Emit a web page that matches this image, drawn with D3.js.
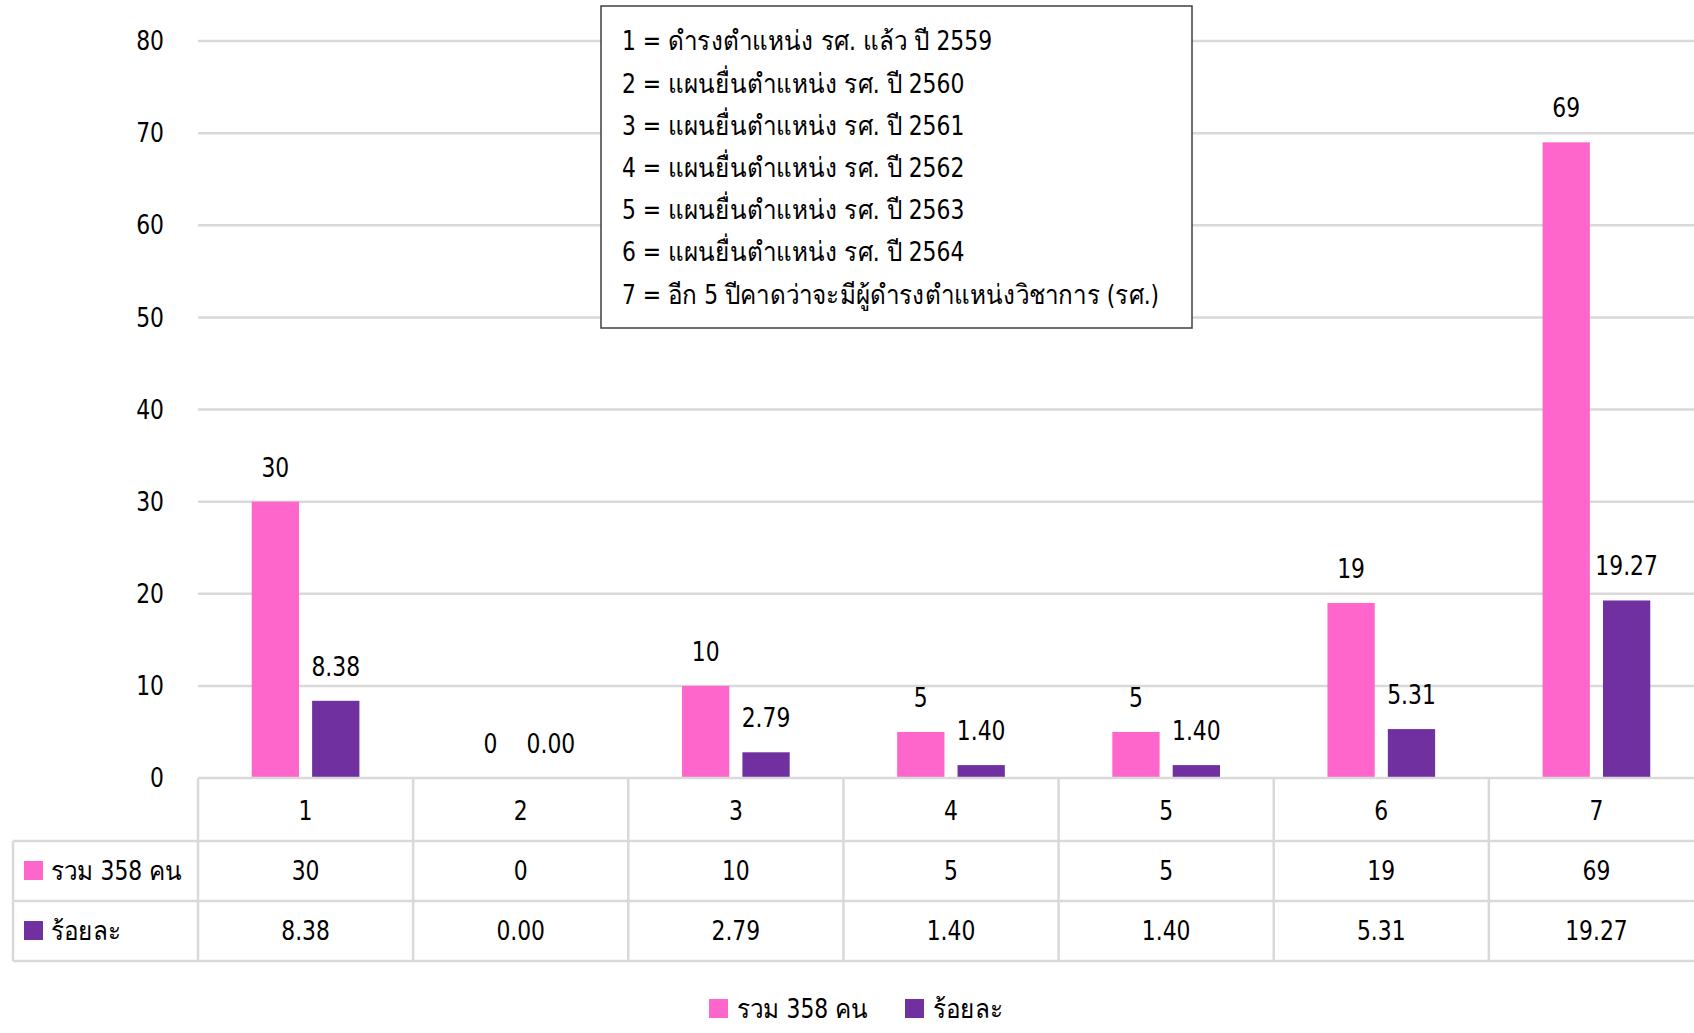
<!DOCTYPE html>
<html>
<head>
<meta charset="utf-8">
<script src="https://cdn.jsdelivr.net/npm/d3@7"></script>
<style>
  body { margin: 0; background: #fff; }
  svg text { font-family: "DejaVu Sans Condensed", "DejaVu Sans", sans-serif; fill: #000;
             transform-box: fill-box; transform-origin: center; transform: scaleX(0.9); }
  svg text.start { transform-origin: left center; }
  svg .y.axis text { transform-origin: right center; }
</style>
</head>
<body>
<svg id="chart" width="1694" height="1033"></svg>
<script>
"use strict"

// categories on x axis
const categories = ["1", "2", "3", "4", "5", "6", "7"]
// series names
const seriesNames = ["รวม 358 คน", "ร้อยละ"]
// series values
const totalValues = [30, 0, 10, 5, 5, 19, 69]
const percentValues = [8.38, 0.00, 2.79, 1.40, 1.40, 5.31, 19.27]
// y axis ticks
const yTicks = [0, 10, 20, 30, 40, 50, 60, 70, 80]
// explanation box lines
const noteLines = [
	"1 = ดำรงตำแหน่ง รศ. แล้ว ปี 2559",
	"2 = แผนยื่นตำแหน่ง รศ. ปี 2560",
	"3 = แผนยื่นตำแหน่ง รศ. ปี 2561",
	"4 = แผนยื่นตำแหน่ง รศ. ปี 2562",
	"5 = แผนยื่นตำแหน่ง รศ. ปี 2563",
	"6 = แผนยื่นตำแหน่ง รศ. ปี 2564",
	"7 = อีก 5 ปีคาดว่าจะมีผู้ดำรงตำแหน่งวิชาการ (รศ.)"
]

const colors = ["#FF66CC", "#7030A0"]
const gridColor = "#D9D9D9"
const fontSize = 27

const svg = d3.select("#chart")
// plot area runs a little past the right edge, like the original
const margins = {left: 198, top: 41}
const width = 1506
const height = 778 - margins.top

const series = [totalValues, percentValues]
const data = categories.map((c, i) => ({
	name: c,
	values: series.map((s, j) => ({key: seriesNames[j], idx: j, value: s[i], label: j === 0 ? String(s[i]) : s[i].toFixed(2)}))
}))

const x0 = d3.scaleBand().domain(categories).range([margins.left, margins.left + width])
const x1 = d3.scaleBand().domain(d3.range(2)).range([0, x0.bandwidth()]).paddingInner(0.217).paddingOuter(0.89)
const y = d3.scaleLinear().domain([0, 80]).range([margins.top + height, margins.top])

// gridlines
svg.append("g")
	.selectAll("line")
	.data(yTicks.slice(1))
	.enter().append("line")
	.attr("x1", margins.left).attr("x2", margins.left + width)
	.attr("y1", d => y(d)).attr("y2", d => y(d))
	.attr("stroke", gridColor).attr("stroke-width", 2.5)

// y axis labels
const yAxis = d3.axisLeft(y).tickValues(yTicks).tickSize(0).tickPadding(34)
svg.append("g")
	.attr("class", "y axis")
	.attr("transform", "translate(" + margins.left + ",0)")
	.call(yAxis)
	.call(g => g.select(".domain").remove())
	.selectAll("text")
	.style("font-size", fontSize + "px")

// bars
const groups = svg.append("g")
	.selectAll("g")
	.data(data)
	.enter().append("g")
	.attr("transform", d => "translate(" + x0(d.name) + ",0)")

groups.selectAll("rect")
	.data(d => d.values)
	.enter().append("rect")
	.attr("x", d => x1(d.idx))
	.attr("y", d => y(d.value))
	.attr("width", x1.bandwidth())
	.attr("height", d => y(0) - y(d.value))
	.attr("fill", d => colors[d.idx])

groups.selectAll("text")
	.data(d => d.values)
	.enter().append("text")
	.attr("x", d => x1(d.idx) + x1.bandwidth() / 2)
	.attr("y", d => y(d.value) - 25)
	.attr("text-anchor", "middle")
	.style("font-size", fontSize + "px")
	.text(d => d.label)

// data table
const rowH = 60
const tableTop = y(0)
const tableLeft = 13
const table = svg.append("g")

// horizontal lines
const hLines = [
	{y: tableTop, x1: margins.left},
	{y: tableTop + rowH + 3, x1: tableLeft},
	{y: tableTop + rowH * 2 + 3, x1: tableLeft},
	{y: tableTop + rowH * 3 + 3, x1: tableLeft}
]
table.selectAll(".hline")
	.data(hLines)
	.enter().append("line")
	.attr("class", "hline")
	.attr("x1", d => d.x1).attr("x2", margins.left + width)
	.attr("y1", d => d.y).attr("y2", d => d.y)
	.attr("stroke", gridColor).attr("stroke-width", 2.5)

// vertical lines
table.selectAll(".vline")
	.data(categories)
	.enter().append("line")
	.attr("class", "vline")
	.attr("x1", d => x0(d)).attr("x2", d => x0(d))
	.attr("y1", tableTop).attr("y2", tableTop + rowH * 3 + 3)
	.attr("stroke", gridColor).attr("stroke-width", 2.5)

table.append("line")
	.attr("x1", tableLeft).attr("x2", tableLeft)
	.attr("y1", tableTop + rowH + 3).attr("y2", tableTop + rowH * 3 + 3)
	.attr("stroke", gridColor).attr("stroke-width", 2.5)

// category row
table.selectAll(".cat")
	.data(categories)
	.enter().append("text")
	.attr("class", "cat")
	.attr("x", d => x0(d) + x0.bandwidth() / 2)
	.attr("y", tableTop + rowH / 2 + 3)
	.attr("dy", "0.35em")
	.attr("text-anchor", "middle")
	.style("font-size", fontSize + "px")
	.text(d => d)

// value rows
series.forEach((s, j) => {
	const ry = tableTop + rowH * (j + 1) + 3 + rowH / 2
	table.append("g").selectAll("text")
		.data(s)
		.enter().append("text")
		.attr("x", (d, i) => x0(categories[i]) + x0.bandwidth() / 2)
		.attr("y", ry)
		.attr("dy", "0.35em")
		.attr("text-anchor", "middle")
		.style("font-size", fontSize + "px")
		.text(d => j === 0 ? String(d) : d.toFixed(2))

	table.append("rect")
		.attr("x", 24).attr("y", ry - 10)
		.attr("width", 19).attr("height", 19)
		.attr("fill", colors[j])
	table.append("text")
		.attr("class", "start")
		.attr("x", 51).attr("y", ry)
		.attr("dy", "0.35em")
		.style("font-size", fontSize + "px")
		.text(seriesNames[j])
})

// bottom legend
const legendX = [709, 905]
const legend = svg.append("g")
legend.selectAll("rect")
	.data(seriesNames)
	.enter().append("rect")
	.attr("x", (d, i) => legendX[i]).attr("y", 999)
	.attr("width", 19).attr("height", 19)
	.attr("fill", (d, i) => colors[i])
legend.selectAll("text")
	.data(seriesNames)
	.enter().append("text")
	.attr("class", "start")
	.attr("x", (d, i) => legendX[i] + 28).attr("y", 1009)
	.attr("dy", "0.35em")
	.style("font-size", fontSize + "px")
	.text(d => d)

// explanation box
const note = svg.append("g")
note.append("rect")
	.attr("x", 601).attr("y", 6)
	.attr("width", 591).attr("height", 322)
	.attr("fill", "#fff").attr("stroke", "#404040").attr("stroke-width", 1.5)
note.selectAll("text")
	.data(noteLines)
	.enter().append("text")
	.attr("class", "start")
	.attr("x", 622)
	.attr("y", (d, i) => 41 + i * 42.2)
	.attr("dy", "0.35em")
	.style("font-size", fontSize + "px")
	.text(d => d)
</script>
</body>
</html>
